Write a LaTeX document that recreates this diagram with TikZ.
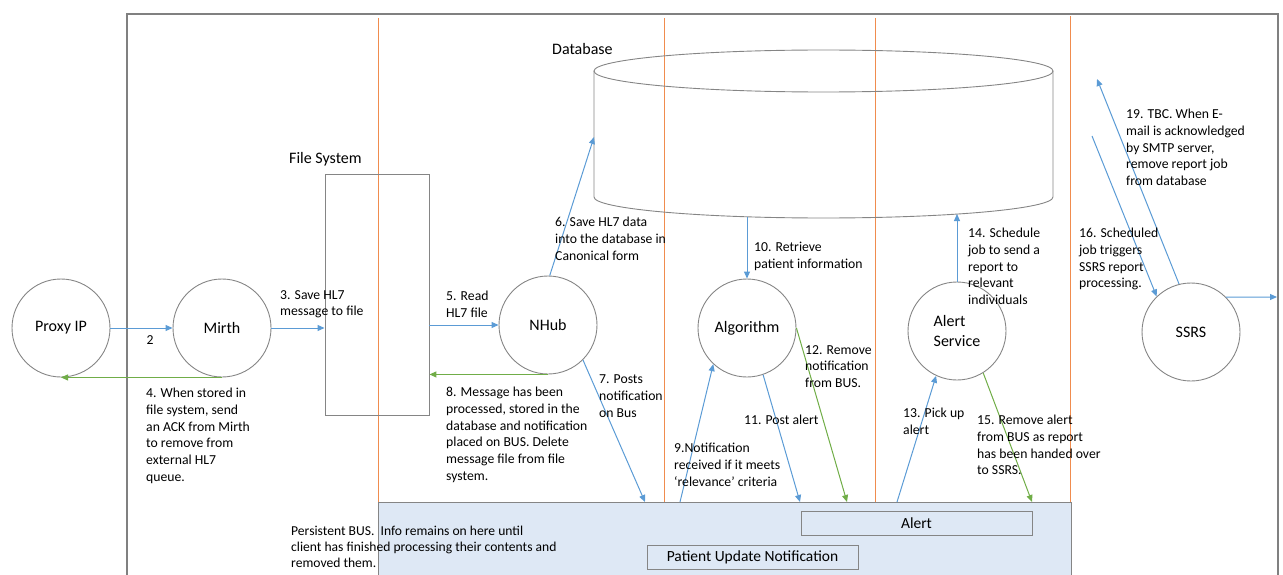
\documentclass[tikz,border=0pt]{standalone}
\usepackage{fontspec}
\setmainfont{Carlito}
\usetikzlibrary{arrows.meta}
\definecolor{lineblue}{HTML}{5B9BD5}
\definecolor{linegreen}{HTML}{70AD47}
\definecolor{laneorange}{HTML}{F08C4E}
\definecolor{busfill}{HTML}{DEE8F5}
\definecolor{shapegray}{HTML}{858585}
\definecolor{framegray}{HTML}{808080}
\begin{document}
\begin{tikzpicture}[x=1pt,y=-1pt,
  proc/.style={circle,draw=shapegray,line width=0.9pt,minimum size=98pt,inner sep=0pt,font=\fontsize{16}{20}\selectfont},
  flow/.style={draw=lineblue,line width=1pt,-{Triangle[length=7pt,width=6pt]}},
  ack/.style={draw=linegreen,line width=1pt,-{Triangle[length=7pt,width=6pt]}},
  lbl/.style={anchor=north west,inner sep=0pt,align=left,font=\fontsize{13.7}{16.7}\selectfont},
  title/.style={anchor=base west,inner sep=0pt,font=\fontsize{16}{20}\selectfont},
  lane/.style={draw=laneorange,line width=1pt},
  msgbox/.style={draw=shapegray,line width=0.9pt,inner sep=0pt,minimum height=24pt,font=\fontsize{15.5}{18}\selectfont}
]
\useasboundingbox (0,0) rectangle (1283,575);
% outer frame
\draw[framegray,line width=1.1pt] (127,576) -- (127,14) -- (1278,14) -- (1278,576);
% lanes
\draw[lane] (378,18) -- (378,502);
\draw[lane] (664,18) -- (664,502);
\draw[lane] (875,18) -- (875,502);
\draw[lane] (1070,16) -- (1070,502);
% bus
\path[fill=busfill] (378,502) rectangle (1071,576);
\draw[shapegray,line width=0.9pt] (378,576) -- (378,502) -- (1071,502) -- (1071,576);
\node[msgbox,minimum width=231pt] (alert) at (916.5,523) {Alert};
\node[msgbox,minimum width=211pt] (pun) at (752.5,557) {Patient Update Notification};
% database cylinder
\draw[shapegray,line width=0.9pt] (823.5,71) ellipse [x radius=229.5pt,y radius=21pt];
\draw[shapegray,line width=0.9pt] (594,71) -- (594,197) arc[start angle=180,end angle=360,x radius=229.5pt,y radius=21pt] -- (1053,71);
\node[inner sep=0pt,minimum width=459pt,minimum height=168pt] (db) at (823.5,134) {};
\node[title] (dbt) at (552,55) {Database};
% file system
\node[draw=shapegray,line width=0.9pt,minimum width=104pt,minimum height=241pt,inner sep=0pt] (fs) at (377,294.5) {};
\node[title] (fst) at (289,164) {File System};
% processes
\node[proc] (proxy) at (61,328) {Proxy IP};
\node[proc] (mirth) at (222,328) {Mirth};
\node[proc] (nhub) at (548,325) {NHub};
\node[proc] (alg) at (747,328) {Algorithm};
\node[proc,align=left] (as) at (957,331) {Alert\\Service};
\node[proc] (ssrs) at (1191,332) {SSRS};
% free ends
\coordinate (d6) at (594,137);
\coordinate (d10) at (747,217);
\coordinate (d14) at (957,214);
\coordinate (d16) at (1092,136);
\coordinate (d19) at (1097,79);
\coordinate (b7) at (645,502);
\coordinate (b9) at (680,502);
\coordinate (b11) at (800,502);
\coordinate (b12) at (847,502);
\coordinate (b13) at (897,502);
\coordinate (b15) at (1032,502);
\coordinate (out) at (1277,297);
% connectors
\draw[flow] (proxy.east) -- (mirth.west);
\draw[ack] (mirth.south) -- (proxy.south);
\draw[flow] (mirth.east) -- (mirth.east -| fs.west);
\draw[flow] (nhub.west -| fs.east) -- (nhub.west);
\draw[ack] (nhub.south) -- (nhub.south -| fs.east);
\draw[flow] (nhub.88) -- (d6);
\draw[flow] (nhub.-45) -- (b7);
\draw[flow] (d10) -- (alg.north);
\draw[flow] (b9) -- (alg.-133);
\draw[flow] (alg.-71) -- (b11);
\draw[ack] (alg.east) -- (b12);
\draw[flow] (as.north) -- (d14);
\draw[flow] (b13) -- (as.-115);
\draw[ack] (as.-58) -- (b15);
\draw[flow] (d16) -- (ssrs.134);
\draw[flow] (ssrs.104) -- (d19);
\draw[flow] (ssrs.45) -- (out);
% labels
\node[inner sep=0pt,font=\fontsize{13.7}{16.7}\selectfont] (t2) at (150,340) {2};
\node[lbl] (t3) at (280,290) {3. Save HL7\\message to file};
\node[lbl] (t4) at (146,388) {4. When stored in\\file system, send\\an ACK from Mirth\\to remove from\\external HL7\\queue.};
\node[lbl] (t5) at (446,291) {5. Read\\HL7 file};
\node[lbl] (t6) at (555,217) {6. Save HL7 data\\into the database in\\Canonical form};
\node[lbl] (t7) at (599,375) {7. Posts\\notification\\on Bus};
\node[lbl] (t8) at (446,387) {8. Message has been\\processed, stored in the\\database and notification\\placed on BUS. Delete\\message file from file\\system.};
\node[lbl] (t9) at (674,443) {9.Notification\\received if it meets\\‘relevance’ criteria};
\node[lbl] (t10) at (754,242) {10. Retrieve\\patient information};
\node[lbl] (t11) at (744,415) {11. Post alert};
\node[lbl] (t12) at (805,345) {12. Remove\\notification\\from BUS.};
\node[lbl] (t13) at (903,408) {13. Pick up\\alert};
\node[lbl] (t14) at (968,228) {14. Schedule\\job to send a\\report to\\relevant\\individuals};
\node[lbl] (t15) at (977,415) {15. Remove alert\\from BUS as report\\has been handed over\\to SSRS.};
\node[lbl] (t16) at (1079,228) {16. Scheduled\\job triggers\\SSRS report\\processing.};
\node[lbl] (t19) at (1126,109) {19. TBC. When E-\\mail is acknowledged\\by SMTP server,\\remove report job\\from database};
\node[lbl,font=\fontsize{13.6}{16}\selectfont] (tbus) at (291,526) {Persistent BUS.\ \ Info remains on here until\\client has finished processing their contents and\\removed them.};
\end{tikzpicture}
\end{document}
